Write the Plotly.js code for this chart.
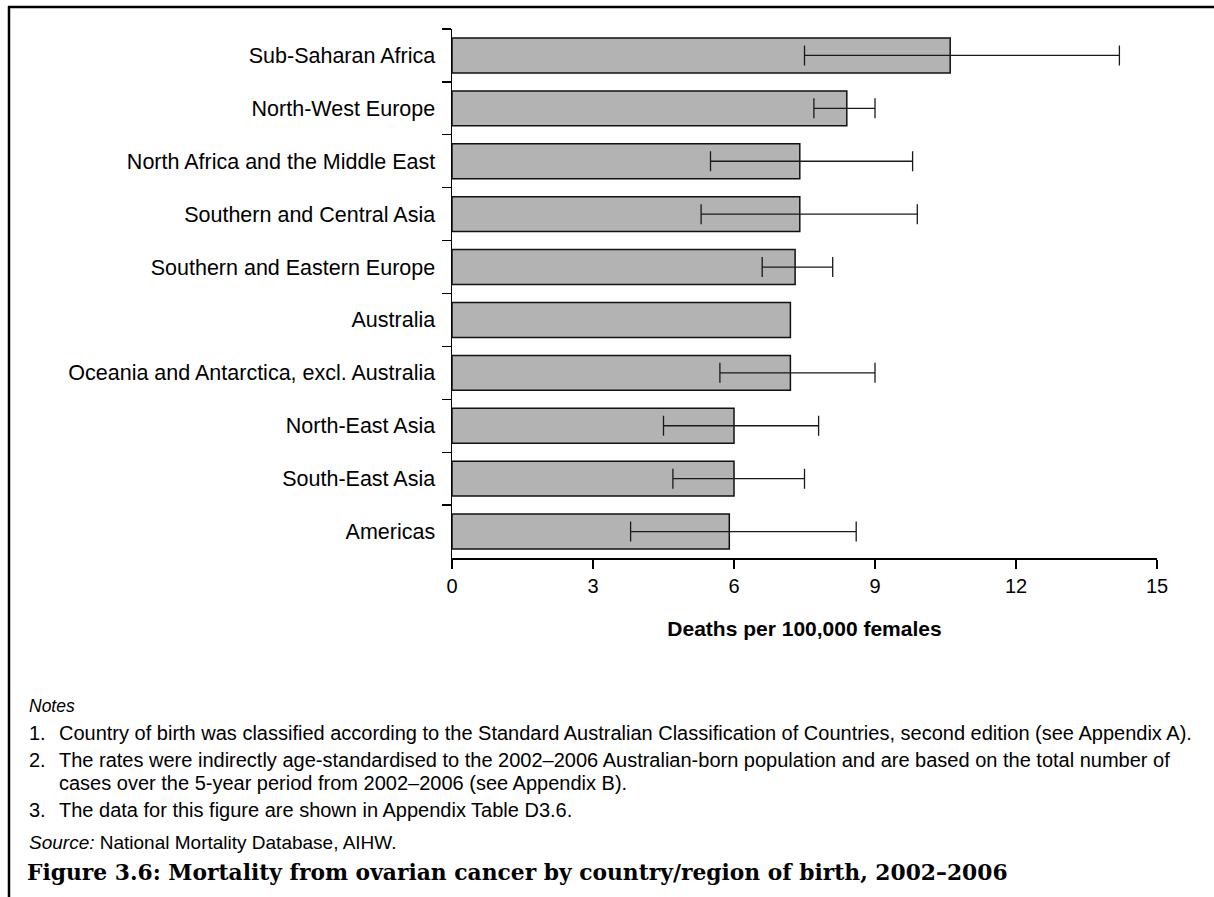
<!DOCTYPE html>
<html>
<head>
<meta charset="utf-8">
<script src="https://cdn.plot.ly/plotly-3.0.1.min.js"></script>
<style>
  html, body { margin: 0; padding: 0; background: #fff; }
  #chart { width: 1214px; height: 897px; }
</style>
</head>
<body>
<div id="chart"></div>
<script>
// Country/region of birth, top to bottom
var regions = [
  "Sub-Saharan Africa",
  "North-West Europe",
  "North Africa and the Middle East",
  "Southern and Central Asia",
  "Southern and Eastern Europe",
  "Australia",
  "Oceania and Antarctica, excl. Australia",
  "North-East Asia",
  "South-East Asia",
  "Americas"
];
// Age-standardised deaths per 100,000 females
var rates = [10.6, 8.4, 7.4, 7.4, 7.3, 7.2, 7.2, 6.0, 6.0, 5.9];
// 95% confidence limits (Australia is the reference group, no interval)
var lowerCI = [7.5, 7.7, 5.5, 5.3, 6.6, NaN, 5.7, 4.5, 4.7, 3.8];
var upperCI = [14.2, 9.0, 9.8, 9.9, 8.1, NaN, 9.0, 7.8, 7.5, 8.6];
var xTicks = [0, 3, 6, 9, 12, 15];

var noteLines = [
  ["1.", "Country of birth was classified according to the Standard Australian Classification of Countries, second edition (see Appendix A)."],
  ["2.", "The rates were indirectly age-standardised to the 2002–2006 Australian-born population and are based on the total number of"],
  ["", "cases over the 5-year period from 2002–2006 (see Appendix B)."],
  ["3.", "The data for this figure are shown in Appendix Table D3.6."]
];
var sourceText = "<i>Source:</i> National Mortality Database, AIHW.";
var figureTitle = "Figure 3.6: Mortality from ovarian cancer by country/region of birth, 2002–2006";

var errPlus = rates.map(function (v, i) { return upperCI[i] - v; });
var errMinus = rates.map(function (v, i) { return v - lowerCI[i]; });

// page geometry (pixels)
var W = 1214, H = 897;
var L = 452, R = 1157, T = 29, B = 558;
function px(x) { return (x - L) / (R - L); }
function py(y) { return (B - y) / (B - T); }

var sans = "Liberation Sans, Arial, sans-serif";

var trace = {
  type: "bar",
  orientation: "h",
  y: regions,
  x: rates,
  width: 0.66,
  marker: { color: "#b3b3b3", line: { color: "#111111", width: 1.5 } },
  error_x: {
    type: "data",
    symmetric: false,
    array: errPlus,
    arrayminus: errMinus,
    color: "#1a1a1a",
    thickness: 1.3,
    width: 10
  },
  hoverinfo: "skip"
};

var annotations = [
  { text: "<i>Notes</i>", x: px(27), y: py(706), font: { size: 17.5 } }
];
var noteY = [733, 760, 783, 810];
noteLines.forEach(function (n, i) {
  if (n[0]) annotations.push({ text: n[0], x: px(27), y: py(noteY[i]), font: { size: 20 } });
  annotations.push({ text: n[1], x: px(57), y: py(noteY[i]), font: { size: 20 } });
});
annotations.push({ text: sourceText, x: px(27), y: py(842), font: { size: 19 } });
annotations.push({
  text: "<b>" + figureTitle + "</b>", x: px(25), y: py(872),
  font: { size: 21.8, family: "DejaVu Serif, serif", color: "#000" }
});
annotations.forEach(function (a) {
  a.xref = "paper"; a.yref = "paper";
  a.xanchor = "left"; a.yanchor = "middle";
  a.showarrow = false;
  if (!a.font.family) a.font.family = sans;
  if (!a.font.color) a.font.color = "#000";
});

var layout = {
  width: W, height: H,
  margin: { l: L, r: W - R, t: T, b: H - B, pad: 0 },
  paper_bgcolor: "#fff",
  plot_bgcolor: "#fff",
  showlegend: false,
  font: { family: sans, color: "#000", size: 18 },
  bargap: 0.34,
  xaxis: {
    range: [0, 15],
    tickvals: xTicks,
    ticktext: xTicks.map(String),
    ticks: "outside", ticklen: 9, tickwidth: 1.3, tickcolor: "#000",
    showline: true, linecolor: "#000", linewidth: 1.5,
    showgrid: false, zeroline: false,
    tickfont: { size: 20 },
    title: { text: "<b>Deaths per 100,000 females</b>", font: { size: 21 }, standoff: 26 }
  },
  yaxis: {
    type: "category",
    categoryorder: "array",
    categoryarray: regions,
    autorange: "reversed",
    ticks: "outside", ticklen: 9, tickwidth: 1.3, tickcolor: "#000",
    tickson: "boundaries",
    showline: true, linecolor: "#000", linewidth: 1.5,
    showgrid: false, zeroline: false,
    tickfont: { size: 21.5 },
    ticklabelstandoff: 11
  },
  shapes: [
    { type: "line", xref: "paper", yref: "paper", x0: px(8), x1: px(1214), y0: py(7), y1: py(7),
      line: { color: "#000", width: 2.5 } },
    { type: "line", xref: "paper", yref: "paper", x0: px(9), x1: px(9), y0: py(6), y1: py(897),
      line: { color: "#000", width: 2.5 } }
  ],
  annotations: annotations
};

Plotly.newPlot("chart", [trace], layout, { displayModeBar: false, staticPlot: true });
</script>
</body>
</html>
